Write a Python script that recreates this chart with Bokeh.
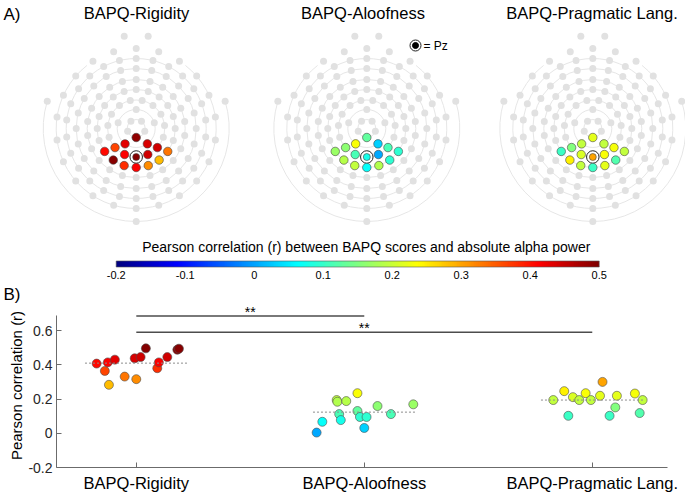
import numpy as np
from bokeh.plotting import figure
from bokeh.models import (Range1d, ColumnDataSource, LinearColorMapper, ColorBar,
                          FixedTicker, PrintfTickFormatter, Label)
from bokeh.layouts import column
from bokeh.embed import file_html
from bokeh.resources import INLINE
from bokeh.core.properties import value

FONT = "Liberation Sans"

# ------------------------------------------------------------------ data
measures = ["BAPQ-Rigidity", "BAPQ-Aloofness", "BAPQ-Pragmatic Lang."]
colorbar_title = "Pearson correlation (r) between BAPQ scores and absolute alpha power"
y_label = "Pearson correlation (r)"
panel_labels = ["A)", "B)"]
pz_legend = "= Pz"

# ROI electrodes of the montage: ring index and polar angle (deg); one is Pz
roi_ring = [1, 2, 2, 3, 3, 4, 4, 3, 3, 3, 4, 4, 4, 4, 4]
roi_angle = [270, 234, 306, 222, 318, 216, 324, 246, 270, 294, 234, 306, 252, 288, 270]
roi_is_pz = [0, 0, 0, 0, 0, 0, 0, 0, 1, 0, 0, 0, 0, 0, 0]

# correlation per ROI electrode (topoplots)
topo_rigidity = [0.488, 0.430, 0.438, 0.364, 0.445, 0.407, 0.331, 0.414, 0.496, 0.445, 0.494, 0.283, 0.380, 0.316, 0.414]
topo_aloofness = [0.130, 0.234, 0.031, 0.159, 0.112, 0.169, 0.095, 0.112, 0.077, 0.004, 0.188, 0.095, 0.194, 0.184, 0.067]
topo_pragmatic = [0.219, 0.194, 0.194, 0.151, 0.232, 0.102, 0.194, 0.211, 0.300, 0.234, 0.246, 0.118, 0.194, 0.219, 0.102]

# panel B scatter: jitter offset from category and correlation
jitter_rigidity = [-0.174, -0.138, -0.125, -0.120, -0.094, -0.051, -0.007, 0.000, 0.019, 0.042, 0.092, 0.099, 0.136, 0.180, 0.187]
r_rigidity = [0.407, 0.364, 0.414, 0.283, 0.430, 0.331, 0.438, 0.316, 0.445, 0.496, 0.380, 0.414, 0.445, 0.488, 0.494]
jitter_aloofness = [-0.209, -0.184, -0.121, -0.118, -0.110, -0.103, -0.079, -0.030, -0.030, -0.019, 0.000, 0.010, 0.058, 0.117, 0.215]
r_aloofness = [0.004, 0.067, 0.194, 0.184, 0.112, 0.077, 0.188, 0.234, 0.130, 0.095, 0.031, 0.095, 0.159, 0.112, 0.169]
jitter_pragmatic = [-0.171, -0.123, -0.105, -0.085, -0.057, -0.029, -0.006, 0.034, 0.045, 0.076, 0.101, 0.108, 0.187, 0.208, 0.221]
r_pragmatic = [0.194, 0.246, 0.102, 0.211, 0.194, 0.234, 0.194, 0.219, 0.300, 0.102, 0.151, 0.219, 0.232, 0.118, 0.194]

sig_from = [1, 1]
sig_to = [2, 3]
sig_y = [0.685, 0.59]
sig_text = ["**", "**"]

cbar_ticks = [-0.2, -0.1, 0.0, 0.1, 0.2, 0.3, 0.4, 0.5]
y_ticks = [-0.2, 0.0, 0.2, 0.4, 0.6]
c_low, c_high = -0.2, 0.5

# ------------------------------------------------------------------ montage geometry (px)
ring_radius = [9, 19, 28.5, 39, 49, 60, 70, 80, 93]
ring_count = [5, 5, 15, 20, 22, 24, 26, 22]
ring_offset = [270, 90, 270, 270, 270, 270, 270, 270]
outer_angles = [17, 82.6, 97.4, 163, 270]
arc_start = [0, 0, 0, 0, 0, 0, 0, 128, 163]
arc_end = [360, 360, 360, 360, 360, 360, 360, 412, 377]

# jet colormap
_t = np.linspace(0, 1, 256)
def _ch(c):
    return np.clip(1.5 - np.abs(4 * _t - c), 0, 1)
JET = ["#%02x%02x%02x" % (int(round(r * 255)), int(round(g * 255)), int(round(b * 255)))
       for r, g, b in zip(_ch(3), _ch(2), _ch(1))]
mapper = LinearColorMapper(palette=JET, low=c_low, high=c_high)

# ------------------------------------------------------------------ top figure (A)
W = 685
TH = 303
def fy(sy):
    return TH - sy

head_cx = [135.7, 366.3, 592.3]
head_cy = 128
title_x = [136, 362.5, 591.5]

top = figure(width=W, height=TH, x_range=Range1d(0, W), y_range=Range1d(0, TH),
             x_axis_type=None, y_axis_type=None, output_backend="svg",
             toolbar_location=None, min_border=0, outline_line_color=None)
top.grid.visible = False
top.frame_align = False

mx, my = [], []
for r, n, off in zip(ring_radius[:8], ring_count, ring_offset):
    for j in range(n):
        a = np.radians(off + 360.0 * j / n)
        mx.append(r * np.cos(a)); my.append(r * np.sin(a))
for a in outer_angles:
    mx.append(ring_radius[8] * np.cos(np.radians(a)))
    my.append(ring_radius[8] * np.sin(np.radians(a)))
mx = np.array(mx); my = np.array(my)

rx = np.array([ring_radius[k - 1] * np.cos(np.radians(a)) for k, a in zip(roi_ring, roi_angle)])
ry = np.array([ring_radius[k - 1] * np.sin(np.radians(a)) for k, a in zip(roi_ring, roi_angle)])
pz = np.array(roi_is_pz) == 1

for i, vals in enumerate([topo_rigidity, topo_aloofness, topo_pragmatic]):
    cx, cy = head_cx[i], fy(head_cy)
    top.arc(x=[cx] * 9, y=[cy] * 9, radius=ring_radius,
            start_angle=list(np.radians(arc_start)), end_angle=list(np.radians(arc_end)),
            line_color="#e6e6e6", line_width=1)
    top.scatter(x=cx + mx, y=cy + my, size=7, fill_color="#e1e1e1", line_color=None)
    top.scatter(x=cx + rx[pz], y=cy + ry[pz], size=12.5, fill_color="white",
                line_color="#222222", line_width=1)
    src = ColumnDataSource(dict(x=cx + rx, y=cy + ry, val=vals,
                                s=[7 if p else 8.5 for p in pz]))
    top.scatter("x", "y", source=src, size="s",
                fill_color={"field": "val", "transform": mapper},
                line_color="#444444", line_width=0.6)
    top.text(x=[title_x[i]], y=[fy(12.5)], text=[measures[i]], text_align="center",
             text_baseline="middle", text_font=value(FONT), text_font_size="16.5px",
             text_color="black")

top.text(x=[3], y=[fy(13.5)], text=[panel_labels[0]], text_align="left",
         text_baseline="middle", text_font=value(FONT), text_font_size="17px", text_color="black")
top.text(x=[3], y=[fy(293.5)], text=[panel_labels[1]], text_align="left",
         text_baseline="middle", text_font=value(FONT), text_font_size="17px", text_color="black")

# Pz legend
top.scatter(x=[415], y=[fy(45)], size=11, fill_color="white", line_color="#222222", line_width=1)
top.scatter(x=[415], y=[fy(45)], size=6, fill_color="black", line_color="black")
top.text(x=[423], y=[fy(45)], text=[pz_legend], text_align="left", text_baseline="middle",
         text_font=value(FONT), text_font_size="12px", text_color="black")

# colorbar title
top.text(x=[365.8], y=[fy(246.5)], text=[colorbar_title], text_align="center",
         text_baseline="middle", text_font=value(FONT), text_font_size="14px",
         text_color="black")

cbar = ColorBar(color_mapper=mapper, orientation="horizontal", location=(115.7, fy(281.5)),
                width=483, height=6, padding=0, margin=0,
                ticker=FixedTicker(ticks=cbar_ticks), formatter=PrintfTickFormatter(format="%g"),
                major_label_text_font=FONT, major_label_text_font_size="11px",
                major_label_text_color="black", label_standoff=4,
                major_tick_line_color=None, bar_line_color="#555555", bar_line_width=0.6,
                background_fill_color=None, border_line_color=None)
top.add_layout(cbar, "center")

# ------------------------------------------------------------------ bottom figure (B)
BH = 494 - TH
bot = figure(width=W, height=BH, x_range=Range1d(0.65, 3.33), y_range=Range1d(-0.2, 0.758),
             output_backend="svg", toolbar_location=None,
             min_border_left=56, min_border_right=18, min_border_top=0, min_border_bottom=26,
             outline_line_color=None)
bot.grid.visible = False
bot.frame_align = False

xs, ys = [], []
for c, jit, rv in zip([1, 2, 3], [jitter_rigidity, jitter_aloofness, jitter_pragmatic],
                      [r_rigidity, r_aloofness, r_pragmatic]):
    xs += [c + j for j in jit]
    ys += list(rv)
psrc = ColumnDataSource(dict(x=xs, r=ys))
bot.scatter("x", "r", source=psrc, size=9, fill_color={"field": "r", "transform": mapper},
            line_color="#4d4d4d", line_width=0.6)

means = [float(np.mean(v)) for v in [r_rigidity, r_aloofness, r_pragmatic]]
bot.segment(x0=[c - 0.225 for c in [1, 2, 3]], x1=[c + 0.225 for c in [1, 2, 3]],
            y0=means, y1=means, line_color="#8c8c8c", line_width=1, line_dash="2 2")

bot.segment(x0=sig_from, x1=sig_to, y0=sig_y, y1=sig_y, line_color="#4d4d4d", line_width=1.5)
for a, b, yv, t in zip(sig_from, sig_to, sig_y, sig_text):
    bot.add_layout(Label(x=(a + b) / 2, y=yv + 0.024, text=t, text_align="center",
                         text_baseline="middle", text_font=FONT, text_font_size="14px",
                         text_color="black"))

AX = "#6b6b6b"
xa = bot.xaxis[0]
xa.ticker = FixedTicker(ticks=[1, 2, 3])
xa.major_label_overrides = {1: measures[0], 2: measures[1], 3: measures[2]}
xa.major_label_text_font = FONT
xa.major_label_text_font_size = "16.5px"
xa.major_label_text_color = "black"
xa.major_label_standoff = 6
ya = bot.yaxis[0]
ya.ticker = FixedTicker(ticks=y_ticks)
ya.formatter = PrintfTickFormatter(format="%g")
ya.bounds = (-0.2, 0.69)
ya.major_label_text_font = FONT
ya.major_label_text_font_size = "14px"
ya.major_label_text_color = "#262626"
ya.major_label_standoff = 4
ya.axis_label = y_label
ya.axis_label_text_font = FONT
ya.axis_label_text_font_size = "15px"
ya.axis_label_text_font_style = "normal"
ya.axis_label_text_color = "black"
ya.axis_label_standoff = 0
for ax in (xa, ya):
    ax.axis_line_color = AX
    ax.major_tick_line_color = AX
    ax.major_tick_in = 5
    ax.major_tick_out = 0
    ax.minor_tick_line_color = None

layout = column(top, bot, spacing=0)
open("out.html", "w").write(file_html(layout, INLINE))
